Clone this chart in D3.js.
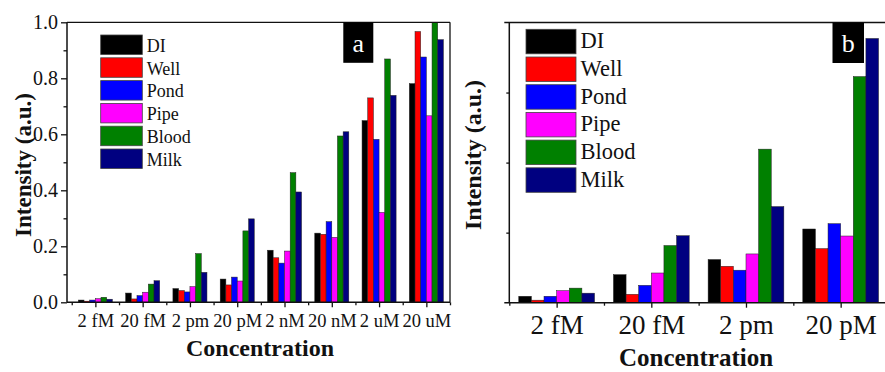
<!DOCTYPE html>
<html>
<head>
<meta charset="utf-8">
<script src="https://cdn.jsdelivr.net/npm/d3@7"></script>
<style>
  body { margin: 0; background: #fff; }
</style>
</head>
<body>
<svg id="chart" width="885" height="372"></svg>
<script>
const FONT = "Liberation Serif";

// series shared by both panels
const seriesNames = ["DI", "Well", "Pond", "Pipe", "Blood", "Milk"];
const seriesColors = ["#000000", "#ff0000", "#0000ff", "#ff00ff", "#008000", "#000080"];

// panel a
const catsA = ["2 fM", "20 fM", "2 pm", "20 pM", "2 nM", "20 nM", "2 uM", "20 uM"];
const diA    = [0.008, 0.033, 0.049, 0.083, 0.186, 0.247, 0.649, 0.781];
const wellA  = [0.004, 0.012, 0.042, 0.062, 0.159, 0.243, 0.730, 0.967];
const pondA  = [0.008, 0.024, 0.037, 0.090, 0.140, 0.288, 0.582, 0.876];
const pipeA  = [0.013, 0.036, 0.056, 0.076, 0.183, 0.232, 0.321, 0.666];
const bloodA = [0.018, 0.065, 0.174, 0.255, 0.463, 0.594, 0.869, 1.000];
const milkA  = [0.011, 0.077, 0.107, 0.298, 0.394, 0.609, 0.739, 0.938];
const yTicksA = [0, 0.2, 0.4, 0.6, 0.8, 1.0];
const yMinorA = [0.1, 0.3, 0.5, 0.7, 0.9];

// panel b (no tick labels in the figure, arbitrary units)
const catsB = ["2 fM", "20 fM", "2 pm", "20 pM"];
const diB    = [0.023, 0.100, 0.154, 0.263];
const wellB  = [0.009, 0.030, 0.130, 0.193];
const pondB  = [0.023, 0.062, 0.116, 0.282];
const pipeB  = [0.043, 0.106, 0.174, 0.238];
const bloodB = [0.052, 0.204, 0.548, 0.807];
const milkB  = [0.034, 0.239, 0.343, 0.943];
const yTicksB = [0.25, 0.5, 0.75];

const svg = d3.select("#chart");

function drawPanel(p) {
    const g = svg.append("g");
    const x = d3.scaleLinear().domain(p.xDomain).range([p.left, p.right]);
    const y = d3.scaleLinear().domain([0, 1]).range([p.bottom, p.top]);
    const bw = x(1) - x(0);
    const groupW = bw * p.groupFrac;
    const barW = groupW / p.series.length;

    // bars, one group per series
    p.series.forEach((vals, si) => {
        g.append("g")
            .selectAll("rect")
            .data(vals)
            .join("rect")
            .attr("x", (d, i) => x(i + 1) - groupW / 2 + si * barW)
            .attr("y", d => y(d))
            .attr("width", barW)
            .attr("height", d => y(0) - y(d))
            .attr("fill", seriesColors[si])
            .attr("stroke", "#222")
            .attr("stroke-width", 0.5);
    });

    // frame: top and right lines
    g.append("line")
        .attr("x1", p.left - p.overhang).attr("x2", p.right)
        .attr("y1", p.top).attr("y2", p.top)
        .attr("stroke", "#111").attr("stroke-width", 1.3);
    g.append("line")
        .attr("x1", p.right).attr("x2", p.right)
        .attr("y1", p.top).attr("y2", p.bottom)
        .attr("stroke", "#111").attr("stroke-width", 1.3);

    // y axis
    const yAxis = d3.axisLeft(y).tickValues(p.yTicks).tickSize(p.yTickLen)
        .tickFormat(p.yLabels ? d3.format(".1f") : "");
    const ya = g.append("g").attr("transform", `translate(${p.left},0)`).call(yAxis);
    ya.select(".domain").remove();
    if (p.yMinor) {
        g.append("g").attr("transform", `translate(${p.left},0)`)
            .call(d3.axisLeft(y).tickValues(p.yMinor).tickSize(3.5).tickFormat(""))
            .select(".domain").remove();
    }
    g.append("line")
        .attr("x1", p.left).attr("x2", p.left)
        .attr("y1", p.top).attr("y2", p.bottom)
        .attr("stroke", "#111").attr("stroke-width", 1.5);

    // x axis, major ticks at categories, minor between
    const xa = g.append("g").attr("transform", `translate(0,${p.bottom})`)
        .call(d3.axisBottom(x).tickValues(d3.range(1, p.cats.length + 1))
            .tickSize(5).tickPadding(p.xPad).tickFormat(i => p.cats[i - 1]));
    xa.select(".domain").remove();
    g.append("g").attr("transform", `translate(0,${p.bottom})`)
        .call(d3.axisBottom(x).tickValues(d3.range(0.5, p.cats.length + 0.6, 1)
            .filter(v => v >= p.xDomain[0] && v <= p.xDomain[1])).tickSize(3).tickFormat(""))
        .select(".domain").remove();
    g.append("line")
        .attr("x1", p.left - p.overhang).attr("x2", p.right)
        .attr("y1", p.bottom).attr("y2", p.bottom)
        .attr("stroke", "#111").attr("stroke-width", 1.5);

    g.selectAll(".tick line").attr("stroke", "#111").attr("stroke-width", 1.3);
    xa.selectAll(".tick text")
        .style("font-family", FONT)
        .attr("font-size", p.xFont).attr("fill", "#111");
    ya.selectAll(".tick text")
        .style("font-family", FONT)
        .attr("font-size", 20).attr("fill", "#111");

    // axis titles
    g.append("text")
        .attr("transform", `translate(${p.yTitleX},${p.yTitleY}) rotate(-90)`)
        .attr("text-anchor", "middle")
        .style("font-family", FONT)
        .attr("font-weight", "bold")
        .attr("font-size", p.titleFont)
        .attr("fill", "#111")
        .text("Intensity (a.u.)");
    g.append("text")
        .attr("x", p.xTitleX).attr("y", p.xTitleY)
        .attr("text-anchor", "middle")
        .style("font-family", FONT)
        .attr("font-weight", "bold")
        .attr("font-size", p.titleFont + 1)
        .attr("fill", "#111")
        .text("Concentration");

    // legend
    const lg = g.append("g");
    seriesNames.forEach((name, i) => {
        const top = p.legTop + i * p.legStep;
        lg.append("rect")
            .attr("x", p.legX).attr("y", top)
            .attr("width", p.legW).attr("height", p.legH)
            .attr("fill", seriesColors[i])
            .attr("stroke", "#444").attr("stroke-width", 0.8);
        lg.append("text")
            .attr("x", p.legX + p.legW + 4.5)
            .attr("y", top + p.legBase)
            .style("font-family", FONT)
            .attr("font-size", p.legFont)
            .attr("fill", "#111")
            .text(name);
    });

    // panel letter
    g.append("rect")
        .attr("x", p.tagX).attr("y", p.top)
        .attr("width", p.tagW).attr("height", 40.5)
        .attr("fill", "#000");
    g.append("text")
        .attr("x", p.tagX + p.tagW / 2).attr("y", p.top + 29.5)
        .attr("text-anchor", "middle")
        .style("font-family", FONT)
        .attr("font-size", 26)
        .attr("fill", "#fff")
        .text(p.tag);
}

drawPanel({
    cats: catsA,
    series: [diA, wellA, pondA, pipeA, bloodA, milkA],
    xDomain: [0.4, 8.5], left: 67, right: 450, top: 22.3, bottom: 302.3,
    groupFrac: 0.72, overhang: 0,
    yTicks: yTicksA, yMinor: yMinorA, yTickLen: 6, yLabels: true,
    xFont: 18.5, xPad: 7,
    titleFont: 23, yTitleX: 31, yTitleY: 165, xTitleX: 260, xTitleY: 356,
    legX: 100.7, legTop: 35, legStep: 22.8, legW: 41.6, legH: 19.5, legBase: 16.7, legFont: 18,
    tag: "a", tagX: 343.3, tagW: 30
});

drawPanel({
    cats: catsB,
    series: [diB, wellB, pondB, pipeB, bloodB, milkB],
    xDomain: [0.5, 4.5], left: 509.3, right: 888, top: 22.5, bottom: 302.7,
    groupFrac: 0.8, overhang: 5,
    yTicks: yTicksB, yMinor: null, yTickLen: 3, yLabels: false,
    xFont: 27, xPad: 7,
    titleFont: 24, yTitleX: 481, yTitleY: 155, xTitleX: 696, xTitleY: 366,
    legX: 526, legTop: 29.3, legStep: 27.7, legW: 50, legH: 24.5, legBase: 19, legFont: 22.5,
    tag: "b", tagX: 832.5, tagW: 31.5
});
</script>
</body>
</html>
